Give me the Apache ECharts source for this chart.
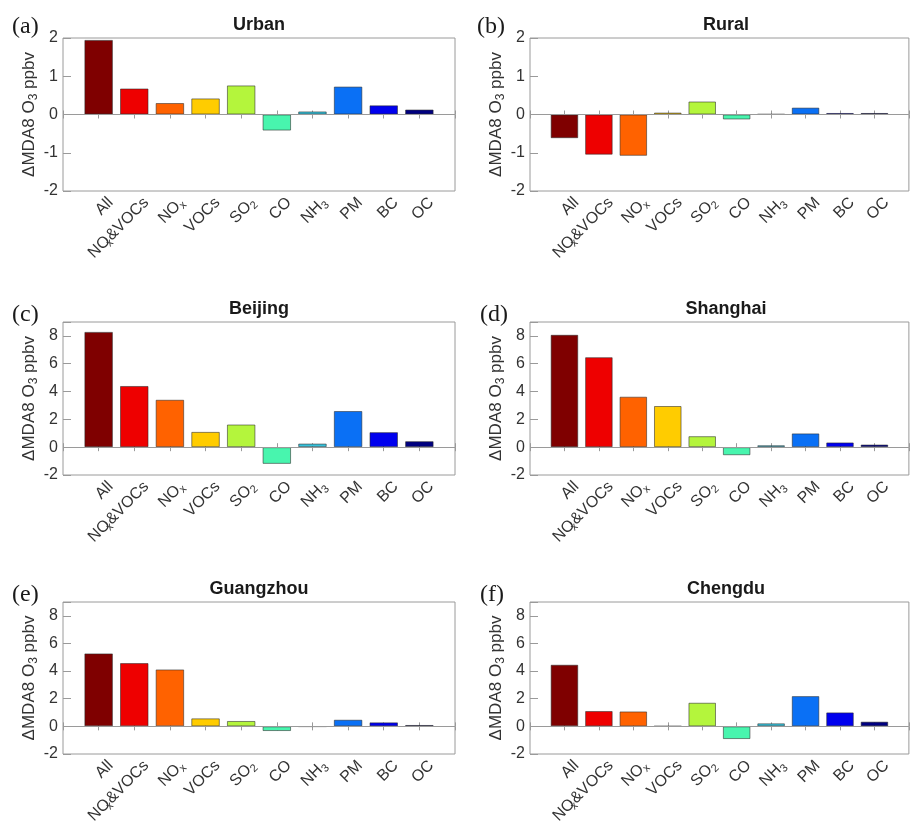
<!DOCTYPE html>
<html>
<head>
<meta charset="utf-8">
<script src="https://cdn.jsdelivr.net/npm/echarts@6/dist/echarts.min.js"></script>
<style>
  html, body { margin: 0; padding: 0; background: #fff; }
  #chart { width: 911px; height: 839px; }
</style>
</head>
<body>
<div id="chart"></div>
<script>
// Emission sectors along the x axis ("_" marks a subscript character)
const categories = ['All', 'NO_x&VOCs', 'NO_x', 'VOCs', 'SO_2', 'CO', 'NH_3', 'PM', 'BC', 'OC'];

// ΔMDA8 O3 (ppbv) per sector
const urban     = [1.95, 0.68, 0.30, 0.42, 0.76, -0.42, 0.08, 0.73, 0.24, 0.13];
const rural     = [-0.62, -1.05, -1.08, 0.05, 0.34, -0.13, 0.01, 0.18, 0.04, 0.04];
const beijing   = [8.29, 4.40, 3.41, 1.10, 1.63, -1.20, 0.26, 2.60, 1.08, 0.43];
const shanghai  = [8.08, 6.47, 3.63, 2.96, 0.79, -0.58, 0.14, 0.99, 0.34, 0.19];
const guangzhou = [5.28, 4.58, 4.12, 0.58, 0.39, -0.34, -0.03, 0.48, 0.29, 0.10];
const chengdu   = [4.46, 1.11, 1.08, 0.02, 1.71, -0.92, 0.22, 2.19, 1.01, 0.34];

// y tick labels
const regionTicks = [-2, -1, 0, 1, 2];
const cityTicks = [-2, 0, 2, 4, 6, 8];

const panelTags = ['(a)', '(b)', '(c)', '(d)', '(e)', '(f)'];
const panelTitles = ['Urban', 'Rural', 'Beijing', 'Shanghai', 'Guangzhou', 'Chengdu'];
const panelValues = [urban, rural, beijing, shanghai, guangzhou, chengdu];
const panelTicks = [regionTicks, regionTicks, cityTicks, cityTicks, cityTicks, cityTicks];
const panelYMax = [2, 2, 9, 9, 9, 9];

// one colour per sector
const barColors = ['#7f0000', '#ee0000', '#ff6200', '#ffcc00', '#b4f53c',
                   '#48f5ae', '#34c2dc', '#0a70f5', '#0000ee', '#000080'];

// plot-area boxes (px)
const gridBoxes = [
  { left: 63,  top: 38,  width: 392, height: 153 },
  { left: 530, top: 38,  width: 392, height: 153 },
  { left: 63,  top: 322, width: 392, height: 153 },
  { left: 530, top: 322, width: 392, height: 153 },
  { left: 63,  top: 602, width: 392, height: 152 },
  { left: 530, top: 602, width: 392, height: 152 }
];
const tagPos = [[12, 27], [477, 27], [12, 315], [480, 315], [12, 595], [480, 595]];

const FONT = '"Liberation Sans", Arial, Helvetica, sans-serif';
const SERIF = '"Liberation Serif", "Times New Roman", serif';
const AXIS_GRAY = '#9a9a9a';
const TEXT = '#333';
const TICK_LEN = 4;

// "NO_x" -> rich text with subscript; a subscript inside a word takes no advance
function richLabel(s) {
  const parts = s.split(/(_\w)/).filter(p => p.length);
  return parts.map((p, k) => {
    if (p[0] !== '_') return '{n|' + p + '}';
    return (k < parts.length - 1 ? '{z|' : '{s|') + p.slice(1) + '}';
  }).join('');
}

// ticks point into the plot box: every axis is pulled inward by the tick
// length and its outward ticks end on the box edge
function tickStyle() {
  return { show: true, inside: false, length: TICK_LEN, lineStyle: { color: AXIS_GRAY, width: 1 } };
}

const grids = [], xAxes = [], yAxes = [], series = [], graphics = [];

gridBoxes.forEach((g, i) => {
  grids.push(Object.assign({
    show: true, borderColor: AXIS_GRAY, borderWidth: 1, backgroundColor: 'transparent'
  }, g));

  // bottom x axis with sector labels
  xAxes.push({
    type: 'value', gridIndex: i, position: 'bottom', offset: -TICK_LEN,
    min: 0, max: 11, interval: 1,
    axisLine: { show: false }, splitLine: { show: false }, axisTick: tickStyle(),
    axisLabel: {
      show: true, rotate: 45, margin: 7 + TICK_LEN, color: TEXT, fontFamily: FONT, fontSize: 16,
      align: 'right', verticalAlign: 'top', padding: [0, -7, 0, 0],
      formatter: v => (v >= 1 && v <= categories.length) ? richLabel(categories[v - 1]) : '',
      rich: {
        n: { fontSize: 16, lineHeight: 20, fontFamily: FONT, color: TEXT },
        s: { fontSize: 11, lineHeight: 11, fontFamily: FONT, color: TEXT, verticalAlign: 'bottom' },
        z: { fontSize: 11, lineHeight: 11, width: 1, fontFamily: FONT, color: TEXT, verticalAlign: 'bottom' }
      }
    }
  });
  // top x axis: ticks only
  xAxes.push({
    type: 'value', gridIndex: i, position: 'top', offset: -TICK_LEN,
    min: 0, max: 11, interval: 1,
    axisLine: { show: false }, splitLine: { show: false }, axisTick: tickStyle(),
    axisLabel: { show: false }
  });

  const ticks = panelTicks[i];
  // left y axis
  yAxes.push({
    type: 'value', gridIndex: i, position: 'left', offset: -TICK_LEN,
    min: ticks[0], max: panelYMax[i], interval: ticks[1] - ticks[0],
    axisLine: { show: false }, splitLine: { show: false }, axisTick: tickStyle(),
    axisLabel: {
      show: true, margin: 5 + TICK_LEN, color: TEXT, fontFamily: FONT, fontSize: 16,
      formatter: v => ticks.indexOf(v) >= 0 ? String(v) : ''
    },
    name: '{n|ΔMDA8 O}{s|3}{n| ppbv}',
    nameLocation: 'middle', nameGap: 22 + TICK_LEN,
    nameTextStyle: {
      color: TEXT, fontFamily: FONT, fontSize: 17,
      rich: {
        n: { fontSize: 17, lineHeight: 22, fontFamily: FONT, color: TEXT },
        s: { fontSize: 12, lineHeight: 12, fontFamily: FONT, color: TEXT, verticalAlign: 'bottom' }
      }
    }
  });
  // right y axis: ticks only
  yAxes.push({
    type: 'value', gridIndex: i, position: 'right', offset: -TICK_LEN,
    min: ticks[0], max: panelYMax[i], interval: ticks[1] - ticks[0],
    axisLine: { show: false }, splitLine: { show: false }, axisTick: tickStyle(),
    axisLabel: { show: false }
  });

  series.push({
    type: 'bar',
    xAxisIndex: 2 * i, yAxisIndex: 2 * i,
    barWidth: '80%',
    data: panelValues[i].map((v, k) => [k + 1, v]),
    itemStyle: {
      color: p => barColors[p.dataIndex],
      borderColor: 'rgba(40,40,40,0.55)', borderWidth: 1
    },
    markLine: {
      silent: true, symbol: 'none', animation: false,
      label: { show: false },
      lineStyle: { color: AXIS_GRAY, width: 1, type: 'solid' },
      data: [{ yAxis: 0 }]
    }
  });

  graphics.push({
    type: 'text', x: g.left + g.width / 2, y: g.top - 13,
    style: {
      text: panelTitles[i], fontFamily: FONT, fontSize: 18, fontWeight: 'bold',
      fill: '#1a1a1a', align: 'center', verticalAlign: 'middle'
    }
  });
  graphics.push({
    type: 'text', x: tagPos[i][0], y: tagPos[i][1],
    style: {
      text: panelTags[i], fontFamily: SERIF, fontSize: 24,
      fill: '#1a1a1a', align: 'left', verticalAlign: 'middle'
    }
  });
});

const chart = echarts.init(document.getElementById('chart'), null, { renderer: 'canvas' });
chart.setOption({
  animation: false,
  backgroundColor: '#ffffff',
  grid: grids,
  xAxis: xAxes,
  yAxis: yAxes,
  series: series,
  graphic: graphics
});
</script>
</body>
</html>
